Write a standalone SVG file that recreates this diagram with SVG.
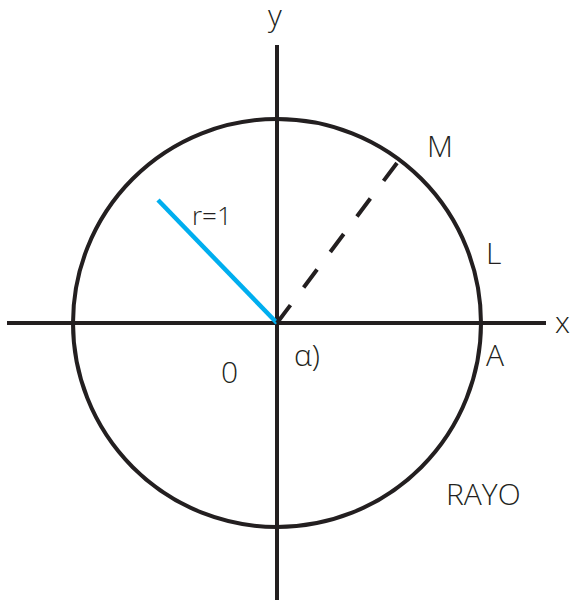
<svg xmlns="http://www.w3.org/2000/svg" width="571" height="600" viewBox="0 0 571 600">
<style>
.ln{stroke:#231f20;stroke-width:4;fill:none}
.t{font-family:"Open Sans","Liberation Sans",sans-serif;font-weight:300;fill:#231f20;font-size:30px}
</style>
<rect width="571" height="600" fill="#fff"/>
<g id="axes">
<line class="ln" x1="7" y1="323" x2="546" y2="323"/>
<line class="ln" x1="277" y1="45" x2="277" y2="600"/>
</g>
<g id="circle"><circle class="ln" cx="277" cy="323" r="204" stroke-width="4.5"/></g>
<g id="connectors">
<line x1="158" y1="200" x2="277" y2="323" stroke="#00aeef" stroke-width="4.5"/>
<line class="ln" x1="277" y1="323" x2="397" y2="163" stroke-dasharray="22.4 22"/>
</g>
<g id="labels">
<text class="t" x="275" y="26" text-anchor="middle">y</text>
<text class="t" x="427" y="157">M</text>
<text class="t" x="486" y="264">L</text>
<text class="t" x="555" y="333">x</text>
<text class="t" x="486" y="366">A</text>
<text class="t" x="446" y="505">RAYO</text>
<text class="t" x="221" y="383">0</text>
<text class="t" x="294" y="366">α)</text>
<text class="t" x="192" y="225" style="font-size:26px">r=1</text>
</g>
</svg>
